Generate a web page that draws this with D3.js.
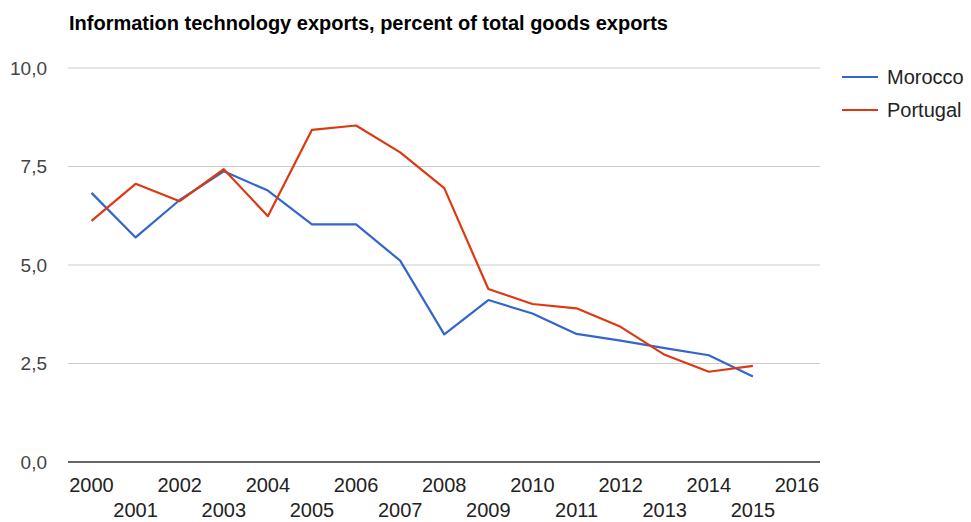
<!DOCTYPE html>
<html>
<head>
<meta charset="utf-8">
<script src="https://cdn.jsdelivr.net/npm/d3@7"></script>
<style>
  body { margin: 0; background: #fff; }
  svg { display: block; font-family: "Liberation Sans", Arial, sans-serif; }
</style>
</head>
<body>
<svg id="chart" width="971" height="522"></svg>
<script>
// IT exports as a share of total goods exports (%)
const years = [2000, 2001, 2002, 2003, 2004, 2005, 2006, 2007, 2008, 2009, 2010, 2011, 2012, 2013, 2014, 2015];
const morocco = [6.83, 5.70, 6.65, 7.38, 6.89, 6.03, 6.03, 5.11, 3.24, 4.11, 3.77, 3.25, 3.08, 2.89, 2.71, 2.17];
const portugal = [6.12, 7.06, 6.62, 7.43, 6.24, 8.43, 8.54, 7.86, 6.95, 4.39, 4.01, 3.90, 3.43, 2.72, 2.29, 2.44];
const seriesNames = ["Morocco", "Portugal"];
const xTicks = d3.range(2000, 2017);
const yTicks = [0, 2.5, 5, 7.5, 10];

const colors = ["#3366cc", "#dc3912"];
const series = [morocco, portugal];

const svg = d3.select("#chart");
const plotLeft = 68, plotRight = 820;

const x = d3.scaleLinear().domain([2000, 2016]).range([91.5, 797]);
const y = d3.scaleLinear().domain([0, 10]).range([462, 68]);

const fmt = v => d3.format(".1f")(v).replace(".", ",");

// Title
svg.append("text")
  .attr("x", 69).attr("y", 30)
  .attr("font-size", 20).attr("font-weight", "bold")
  .attr("fill", "#000")
  .text("Information technology exports, percent of total goods exports");

// Horizontal gridlines
svg.append("g").selectAll("line")
  .data(yTicks.filter(t => t !== 0))
  .join("line")
  .attr("x1", plotLeft).attr("x2", plotRight)
  .attr("y1", d => y(d)).attr("y2", d => y(d))
  .attr("stroke", "#cccccc").attr("stroke-width", 1);

// Y tick labels
svg.append("g").selectAll("text")
  .data(yTicks)
  .join("text")
  .attr("x", 47).attr("y", d => y(d))
  .attr("dy", "0.36em")
  .attr("text-anchor", "end")
  .attr("font-size", 19).attr("fill", "#444")
  .text(fmt);

// Lines
const line = d3.line().x((d, i) => x(years[i])).y(d => y(d));
svg.append("g").selectAll("path")
  .data(series)
  .join("path")
  .attr("d", line)
  .attr("fill", "none")
  .attr("stroke", (d, i) => colors[i])
  .attr("stroke-width", 2.2)
  .attr("stroke-linejoin", "round");

// Baseline
svg.append("line")
  .attr("x1", plotLeft).attr("x2", plotRight)
  .attr("y1", y(0)).attr("y2", y(0))
  .attr("stroke", "#333").attr("stroke-width", 1.3);

// X tick labels, staggered on two rows
svg.append("g").selectAll("text")
  .data(xTicks)
  .join("text")
  .attr("x", d => x(d))
  .attr("y", (d, i) => i % 2 === 0 ? 491.5 : 517)
  .attr("text-anchor", "middle")
  .attr("font-size", 20).attr("fill", "#222")
  .text(d => d);

// Legend
const legend = svg.append("g").selectAll("g")
  .data(seriesNames)
  .join("g")
  .attr("transform", (d, i) => `translate(842, ${77 + i * 33})`);
legend.append("line")
  .attr("x1", 0).attr("x2", 36)
  .attr("stroke", (d, i) => colors[i]).attr("stroke-width", 2.2);
legend.append("text")
  .attr("x", 45).attr("dy", "0.36em")
  .attr("font-size", 20).attr("fill", "#222")
  .text(d => d);
</script>
</body>
</html>
